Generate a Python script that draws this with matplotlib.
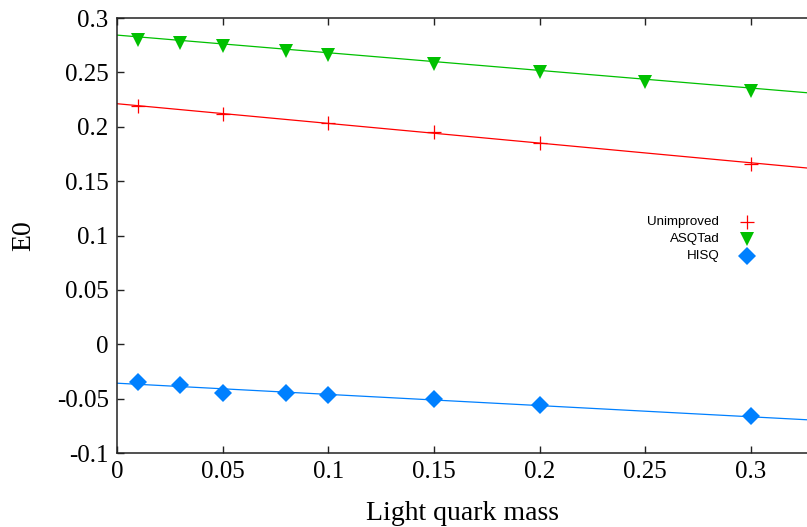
import numpy as np
import matplotlib
matplotlib.use('Agg')
import matplotlib.pyplot as plt

# light quark masses and ground state energies for each action
mass_unimp = [0.01, 0.05, 0.1, 0.15, 0.2, 0.3]
e0_unimp = [0.2191, 0.2120, 0.2034, 0.1955, 0.1847, 0.1661]

mass_asqtad = [0.01, 0.03, 0.05, 0.08, 0.1, 0.15, 0.2, 0.25, 0.3]
e0_asqtad = [0.2800, 0.2767, 0.2745, 0.2700, 0.2662, 0.2576, 0.2507, 0.2408, 0.2325]

mass_hisq = [0.01, 0.03, 0.05, 0.08, 0.1, 0.15, 0.2, 0.3]
e0_hisq = [-0.0343, -0.0371, -0.0444, -0.0450, -0.0463, -0.0502, -0.0558, -0.0662]

# linear fits: E0 = a + b*m
fit_unimp = (0.2212, -0.181)
fit_asqtad = (0.2843, -0.1623)
fit_hisq = (-0.0358, -0.103)

labels = ['Unimproved', 'ASQTad', 'HISQ']
colors = ['#ff0000', '#00c000', '#0080ff']

xmax = 0.3266

fig = plt.figure(figsize=(8.07, 5.27), dpi=100)
ax = fig.add_axes([0.145, 0.1404, 0.855, 0.8254])

xs = np.linspace(0, xmax, 50)
for (a, b), c in zip([fit_unimp, fit_asqtad, fit_hisq], colors):
    ax.plot(xs, a + b * xs, color=c, lw=0.9)

markers = [dict(marker='+', ms=10, mew=0.9), dict(marker='v', ms=10, mew=0),
           dict(marker='D', ms=9, mew=0)]

ax.plot(mass_unimp, e0_unimp, ls='none', color=colors[0], **markers[0])
ax.plot(mass_asqtad, e0_asqtad, ls='none', color=colors[1], **markers[1])
ax.plot(mass_hisq, e0_hisq, ls='none', color=colors[2], **markers[2])

ax.set_xlim(0, xmax)
ax.set_ylim(-0.1, 0.3)
ax.set_xticks([0, 0.05, 0.1, 0.15, 0.2, 0.25, 0.3])
ax.set_xticklabels(['0', '0.05', '0.1', '0.15', '0.2', '0.25', '0.3'])
ax.set_yticks([-0.1, -0.05, 0, 0.05, 0.1, 0.15, 0.2, 0.25, 0.3])
ax.set_yticklabels(['-0.1', '-0.05', '0', '0.05', '0.1', '0.15', '0.2', '0.25', '0.3'])

serif = 'Liberation Serif'
for t in ax.get_xticklabels() + ax.get_yticklabels():
    t.set_fontfamily(serif)
    t.set_fontsize(18)
ax.tick_params(direction='in', length=5, width=1, top=True, right=False, pad=6, color='#222222')
ax.spines['right'].set_visible(False)
for s in ['left', 'top', 'bottom']:
    ax.spines[s].set_linewidth(1.1)
    ax.spines[s].set_color('#222222')

ax.set_xlabel('Light quark mass', fontfamily=serif, fontsize=20, labelpad=13)
ax.set_ylabel('E0', fontfamily=serif, fontsize=20, labelpad=15)

# key with right aligned labels and the symbol on the right
key_y = [0.531, 0.492, 0.453]
for lab, c, mk, y in zip(labels, colors, markers, key_y):
    ax.text(0.873, y, lab, transform=ax.transAxes, ha='right', va='center',
            fontfamily='Liberation Sans', fontsize=9.6)
    ax.plot([0.9126], [y], transform=ax.transAxes, color=c, ls='none', clip_on=False, **mk)

fig.savefig('out.png', dpi=100)
